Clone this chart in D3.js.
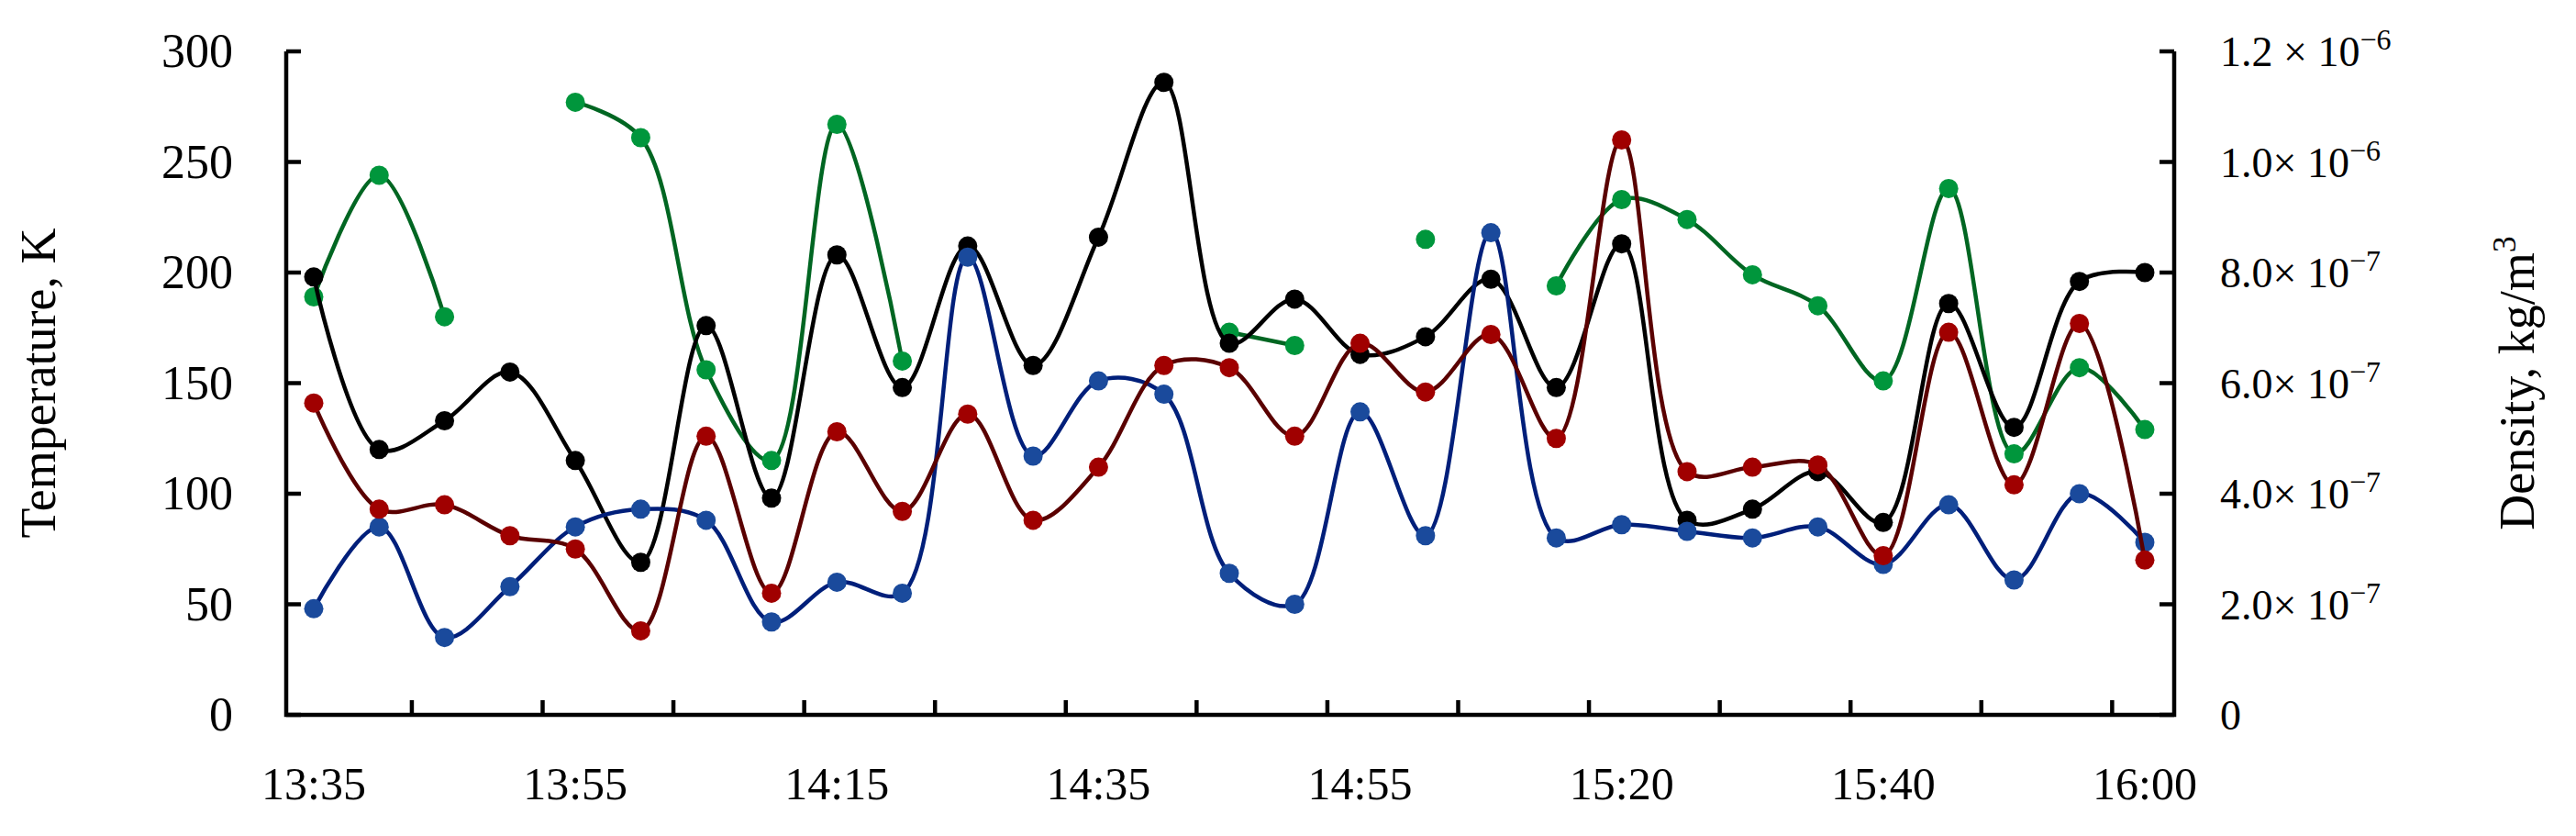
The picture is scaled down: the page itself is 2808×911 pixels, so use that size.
<!DOCTYPE html>
<html><head><meta charset="utf-8">
<script src="https://cdn.jsdelivr.net/npm/d3@7"></script>
<style>body{margin:0;background:#fff}</style></head>
<body><svg id="c" width="2808" height="911"></svg>
<script>
const timeLabels = ["13:35","13:55","14:15","14:35","14:55","15:20","15:40","16:00"];
const labelIndex = [0,4,8,12,16,20,24,28];
const tempBlack = [198,120,133,155,115,69,176,98,208,148,212,158,216,286,168,188,163,171,197,148,213,88,93,110,87,186,130,196,200];
const tempRed = [141,93,95,81,75,38,126,55,128,92,136,88,112,158,157,126,168,146,172,125,260,110,112,113,72,173,104,177,70];
const tempBlue = [48,85,35,58,85,93,88,42,60,55,207,117,151,145,64,50,137,81,218,80,86,83,80,85,68,95,61,100,78];
const density = [7.56e-7,9.76e-7,7.2e-7,null,1.108e-6,1.044e-6,6.24e-7,4.6e-7,1.068e-6,6.4e-7,null,null,null,null,6.92e-7,6.68e-7,null,8.6e-7,null,7.76e-7,9.32e-7,8.96e-7,7.96e-7,7.4e-7,6.04e-7,9.52e-7,4.72e-7,6.28e-7,5.16e-7];
const leftTicks = [0,50,100,150,200,250,300];
const rightTicks = [0,2e-7,4e-7,6e-7,8e-7,1e-6,1.2e-6];
const rightTickLabels = [["0",""],["2.0× 10","−7"],["4.0× 10","−7"],["6.0× 10","−7"],["8.0× 10","−7"],["1.0× 10","−6"],["1.2 × 10","−6"]];

const svg = d3.select("#c");
const L=312, R=2370, T=56, B=779;
const idx = d3.range(tempBlack.length);
const x = d3.scaleLinear().domain([0,28]).range([342,2338]);
const y = d3.scaleLinear().domain([0,300]).range([B,T]);
const y2 = d3.scaleLinear().domain([0,1.2e-6]).range([B,T]);
const font = "'Liberation Serif', serif";

const g = svg.append("g").attr("stroke","#000").attr("stroke-width",4.5).attr("fill","none");
g.append("path").attr("d",`M${L},${T}V${B}H${R}V${T}`);
leftTicks.forEach(v=>g.append("line").attr("x1",L).attr("x2",L+16).attr("y1",y(v)).attr("y2",y(v)));
rightTicks.forEach(v=>g.append("line").attr("x1",R).attr("x2",R-16).attr("y1",y2(v)).attr("y2",y2(v)));
d3.range(1.5,28,2).forEach(v=>g.append("line").attr("x1",x(v)).attr("x2",x(v)).attr("y1",B).attr("y2",B-16));

svg.selectAll(".lt").data(leftTicks).join("text").attr("x",L-58).attr("y",d=>y(d)+17)
  .attr("text-anchor","end").attr("font-family",font).attr("font-size",52).text(d=>d);
svg.selectAll(".xt").data(labelIndex).join("text").attr("x",d=>x(d)).attr("y",B+92)
  .attr("text-anchor","middle").attr("font-family",font).attr("font-size",50).text((d,i)=>timeLabels[i]);
const rt = svg.selectAll(".rt").data(rightTicks).join("text").attr("x",R+50).attr("y",d=>y2(d)+16)
  .attr("font-family",font).attr("font-size",46);
rt.append("tspan").text((d,i)=>rightTickLabels[i][0]);
rt.append("tspan").attr("dy",-18).attr("font-size",32).text((d,i)=>rightTickLabels[i][1]);

svg.append("text").attr("transform",`translate(60,${(T+B)/2}) rotate(-90)`).attr("text-anchor","middle")
  .attr("font-family",font).attr("font-size",54).text("Temperature, K");
const rl = svg.append("text").attr("transform",`translate(2762,${(T+B)/2}) rotate(-90)`).attr("text-anchor","middle")
  .attr("font-family",font).attr("font-size",54);
rl.append("tspan").text("Density, kg/m");
rl.append("tspan").attr("dy",-20).attr("font-size",36).text("3");

function series(vals, ys, line, dot){
  const ln = d3.line().defined(d=>d!=null).x((d,i)=>x(i)).y(d=>ys(d)).curve(d3.curveCatmullRom.alpha(0.5));
  svg.append("path").datum(vals).attr("d",ln).attr("fill","none").attr("stroke",line).attr("stroke-width",4.5);
  svg.append("g").selectAll("circle").data(idx.filter(i=>vals[i]!=null)).join("circle")
    .attr("cx",i=>x(i)).attr("cy",i=>ys(vals[i])).attr("r",10.5).attr("fill",dot);
}
series(density, y2, "#006622", "#00963c");
series(tempBlack, y, "#000", "#000");
series(tempBlue, y, "#001f7a", "#1a4a9c");
series(tempRed, y, "#5a0000", "#a00000");
</script></body></html>
